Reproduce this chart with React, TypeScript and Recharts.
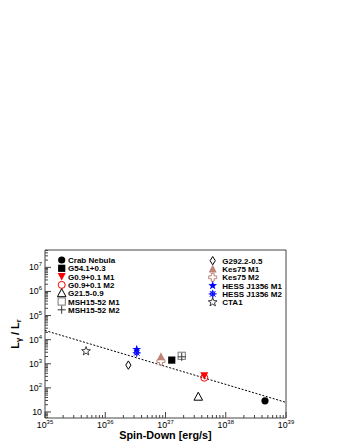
import React from 'react';
import { ScatterChart, Scatter, XAxis, YAxis, ReferenceArea, Customized } from 'recharts';

// ---- data ----
const crabNebula = [{ x: 4.48e38, y: 29 }];
const g54 = [{ x: 1.27e37, y: 1420 }];
const g09M1 = [{ x: 4.4e37, y: 316 }];
const g09M2 = [{ x: 4.4e37, y: 263 }];
const g215 = [{ x: 3.5e37, y: 43 }];
const msh1552M1 = [{ x: 1.86e37, y: 2140 }];
const msh1552M2 = [{ x: 1.86e37, y: 1940 }];
const g292 = [{ x: 2.42e36, y: 880 }];
const kes75M1 = [{ x: 8.4e36, y: 1940 }];
const kes75M2 = [{ x: 8.4e36, y: 1290 }];
const hessM1 = [{ x: 3.33e36, y: 3930 }];
const hessM2 = [{ x: 3.33e36, y: 2840 }];
const cta1 = [{ x: 4.8e35, y: 3330 }];
const fitLine = [{ x: 1e35, y: 2.4e4 }, { x: 1e39, y: 25 }];

const xMajorTicks = [1e35, 1e36, 1e37, 1e38, 1e39];
const yMajorTicks = [1e1, 1e2, 1e3, 1e4, 1e5, 1e6, 1e7];
const minorMultipliers = [2, 3, 4, 5, 6, 7, 8, 9];
const xDomain = [1e35, 1e39];
const yDomain = [5.62, 5.25e7];

const FONT = '"Liberation Sans", Arial, Helvetica, sans-serif';
const ROSE = '#bd8477';
const AXIS = '#444';

type Kind =
  | 'fcircle' | 'fsquare' | 'ftriDown' | 'ocircle' | 'otriUp' | 'osquare' | 'plus'
  | 'odiamond' | 'ftriUp' | 'ocross' | 'fstar' | 'asterisk' | 'ostar';

const series: { name: string; data: { x: number; y: number }[]; kind: Kind; color: string; col: number }[] = [
  { name: 'Crab Nebula', data: crabNebula, kind: 'fcircle', color: '#000', col: 0 },
  { name: 'G54.1+0.3', data: g54, kind: 'fsquare', color: '#000', col: 0 },
  { name: 'G0.9+0.1 M1', data: g09M1, kind: 'ftriDown', color: '#ff0000', col: 0 },
  { name: 'G0.9+0.1 M2', data: g09M2, kind: 'ocircle', color: '#ff0000', col: 0 },
  { name: 'G21.5-0.9', data: g215, kind: 'otriUp', color: '#000', col: 0 },
  { name: 'MSH15-52 M1', data: msh1552M1, kind: 'osquare', color: '#777', col: 0 },
  { name: 'MSH15-52 M2', data: msh1552M2, kind: 'plus', color: '#333', col: 0 },
  { name: 'G292.2-0.5', data: g292, kind: 'odiamond', color: '#000', col: 1 },
  { name: 'Kes75 M1', data: kes75M1, kind: 'ftriUp', color: ROSE, col: 1 },
  { name: 'Kes75 M2', data: kes75M2, kind: 'ocross', color: ROSE, col: 1 },
  { name: 'HESS J1356 M1', data: hessM1, kind: 'fstar', color: '#0000ff', col: 1 },
  { name: 'HESS J1356 M2', data: hessM2, kind: 'asterisk', color: '#0000ff', col: 1 },
  { name: 'CTA1', data: cta1, kind: 'ostar', color: '#222', col: 1 },
];

function starPoints(cx: number, cy: number, ro: number, ri: number) {
  const pts: string[] = [];
  for (let i = 0; i < 10; i++) {
    const r = i % 2 === 0 ? ro : ri;
    const a = -Math.PI / 2 + (i * Math.PI) / 5;
    pts.push(`${cx + r * Math.cos(a)},${cy + r * Math.sin(a)}`);
  }
  return pts.join(' ');
}

function Marker({ kind, cx, cy, color, s = 1 }: { kind: Kind; cx: number; cy: number; color: string; s?: number }) {
  switch (kind) {
    case 'fcircle':
      return <circle cx={cx} cy={cy} r={3.6 * s} fill={color} />;
    case 'fsquare':
      return <rect x={cx - 3.6 * s} y={cy - 3.6 * s} width={7.2 * s} height={7.2 * s} fill={color} />;
    case 'ftriDown':
      return <polygon points={`${cx - 4 * s},${cy - 3.5 * s} ${cx + 4 * s},${cy - 3.5 * s} ${cx},${cy + 4 * s}`} fill={color} />;
    case 'ocircle':
      return <circle cx={cx} cy={cy} r={3.5 * s} fill="none" stroke={color} strokeWidth={1} />;
    case 'otriUp':
      return <polygon points={`${cx},${cy - 4.5 * s} ${cx - 4.3 * s},${cy + 3.5 * s} ${cx + 4.3 * s},${cy + 3.5 * s}`} fill="none" stroke={color} strokeWidth={1} />;
    case 'osquare':
      return <rect x={cx - 3.6 * s} y={cy - 3.6 * s} width={7.2 * s} height={7.2 * s} fill="none" stroke={color} strokeWidth={1} />;
    case 'plus':
      return (
        <g stroke={color} strokeWidth={1}>
          <line x1={cx - 4 * s} x2={cx + 4 * s} y1={cy} y2={cy} />
          <line x1={cx} x2={cx} y1={cy - 4 * s} y2={cy + 4 * s} />
        </g>
      );
    case 'odiamond':
      return <polygon points={`${cx},${cy - 4.2 * s} ${cx + 2.6 * s},${cy} ${cx},${cy + 4.2 * s} ${cx - 2.6 * s},${cy}`} fill="none" stroke={color} strokeWidth={1} />;
    case 'ftriUp':
      return <polygon points={`${cx},${cy - 4.5 * s} ${cx - 4 * s},${cy + 3.5 * s} ${cx + 4 * s},${cy + 3.5 * s}`} fill={color} />;
    case 'ocross': {
      const a = 4 * s, b = 1.4 * s;
      const p = [
        [-b, -a], [b, -a], [b, -b], [a, -b], [a, b], [b, b], [b, a], [-b, a], [-b, b], [-a, b], [-a, -b], [-b, -b],
      ].map(([dx, dy]) => `${cx + dx},${cy + dy}`).join(' ');
      return <polygon points={p} fill="none" stroke={color} strokeWidth={1} />;
    }
    case 'fstar':
      return <polygon points={starPoints(cx, cy, 4.6 * s, 1.9 * s)} fill={color} />;
    case 'asterisk': {
      const r = 4 * s, d = r * 0.7071;
      return (
        <g stroke={color} strokeWidth={1}>
          <line x1={cx - r} x2={cx + r} y1={cy} y2={cy} />
          <line x1={cx} x2={cx} y1={cy - r} y2={cy + r} />
          <line x1={cx - d} x2={cx + d} y1={cy - d} y2={cy + d} />
          <line x1={cx - d} x2={cx + d} y1={cy + d} y2={cy - d} />
          <circle cx={cx} cy={cy} r={2.2 * s} fill="none" />
        </g>
      );
    }
    case 'ostar':
      return <polygon points={starPoints(cx, cy, 4.6 * s, 1.9 * s)} fill="none" stroke={color} strokeWidth={0.9} />;
  }
  return null;
}

function isMajor(v: number) {
  const l = Math.log10(v);
  return Math.abs(l - Math.round(l)) < 1e-6;
}

function buildTicks(majors: number[], lo: number, hi: number) {
  const out: number[] = [];
  const startExp = Math.floor(Math.log10(lo));
  const endExp = Math.floor(Math.log10(hi));
  for (let e = startExp; e <= endExp; e++) {
    const base = Math.pow(10, e);
    if (majors.some((m) => Math.abs(m - base) / base < 1e-9) && base >= lo && base <= hi) out.push(base);
    for (const m of minorMultipliers) {
      const v = m * base;
      if (v >= lo && v <= hi) out.push(v);
    }
  }
  return out;
}

const xTicks = buildTicks(xMajorTicks, xDomain[0], xDomain[1]);
const yTicks = buildTicks(yMajorTicks, yDomain[0], yDomain[1]);

const XTick = (props: any) => {
  const { x, y, payload } = props;
  const v = payload.value;
  const major = isMajor(v);
  const e = Math.round(Math.log10(v));
  return (
    <g>
      <line x1={x} x2={x} y1={y} y2={y - (major ? 6 : 3)} stroke={AXIS} strokeWidth={1} />
      {major && (
        <text x={x} y={y + 9.5} textAnchor="middle" fontSize={8.8} fontFamily={FONT} fill="#000">
          <tspan>10</tspan>
          <tspan dy={-4} fontSize={5.9}>{e}</tspan>
        </text>
      )}
    </g>
  );
};

const YTick = (props: any) => {
  const { x, y, payload } = props;
  const v = payload.value;
  const major = isMajor(v);
  const e = Math.round(Math.log10(v));
  return (
    <g>
      <line x1={x} x2={x + (major ? 6 : 3)} y1={y} y2={y} stroke={AXIS} strokeWidth={1} />
      {major && (
        <text x={x - 3} y={y + 3} textAnchor="end" fontSize={8.8} fontFamily={FONT} fill="#000">
          <tspan>10</tspan>
          {e !== 1 && <tspan dy={-4} fontSize={5.9}>{e}</tspan>}
        </text>
      )}
    </g>
  );
};

const LegendBlock = () => {
  const rows0 = series.filter((s) => s.col === 0);
  const rows1 = series.filter((s) => s.col === 1);
  const rowH = 8.3;
  return (
    <g>
      {rows0.map((s, i) => (
        <g key={s.name}>
          <Marker kind={s.kind} cx={61.7} cy={260 + i * rowH} color={s.color} />
          <text x={68} y={260 + i * rowH + 3} fontSize={8} fontWeight="bold" fontFamily={FONT} fill="#000">
            {s.name}
          </text>
        </g>
      ))}
      {rows1.map((s, i) => (
        <g key={s.name}>
          <Marker kind={s.kind} cx={212.7} cy={260.7 + i * rowH} color={s.color} />
          <text x={222.3} y={260.7 + i * rowH + 3} fontSize={8} fontWeight="bold" fontFamily={FONT} fill="#000">
            {s.name}
          </text>
        </g>
      ))}
    </g>
  );
};

const XTitle = (props: any) => {
  const vb = props.viewBox || { x: 45, y: 418, width: 241, height: 26 };
  return (
    <text x={vb.x + vb.width / 2} y={vb.y + 21} textAnchor="middle" fontSize={10.8} fontWeight="bold" fontFamily={FONT} fill="#000">
      Spin-Down [erg/s]
    </text>
  );
};

const YTitle = (props: any) => {
  const vb = props.viewBox || { x: 0, y: 250, width: 45, height: 168 };
  const cx = 18.5;
  const cy = vb.y + vb.height / 2;
  return (
    <text x={cx} y={cy} transform={`rotate(-90, ${cx}, ${cy})`} textAnchor="middle" fontSize={10.8} fontWeight="bold" fontFamily={FONT} fill="#000">
      <tspan>L</tspan>
      <tspan dy={2.5} fontSize={7.5}>γ</tspan>
      <tspan dy={-2.5}> / L</tspan>
      <tspan dy={2.5} fontSize={7.5}>r</tspan>
    </text>
  );
};

export default function App() {
  return (
    <div style={{ position: 'absolute', left: 0, top: 0, width: 343, height: 444, background: '#fff' }}>
      <ScatterChart width={343} height={444} margin={{ top: 250, right: 57, bottom: 0, left: 0 }}>
        <XAxis
          type="number"
          dataKey="x"
          scale="log"
          domain={xDomain}
          allowDataOverflow
          ticks={xTicks}
          interval={0}
          tick={<XTick />}
          tickLine={false}
          tickSize={0}
          tickMargin={0}
          axisLine={false}
          height={26}
          label={<XTitle />}
        />
        <YAxis
          type="number"
          dataKey="y"
          scale="log"
          domain={yDomain}
          allowDataOverflow
          ticks={yTicks}
          interval={0}
          tick={<YTick />}
          tickLine={false}
          tickSize={0}
          tickMargin={0}
          axisLine={false}
          width={45}
          label={<YTitle />}
        />
        <ReferenceArea x1={xDomain[0]} x2={xDomain[1]} y1={yDomain[0]} y2={yDomain[1]} fill="none" fillOpacity={0} stroke={AXIS} strokeWidth={1} ifOverflow="visible" />
        <Scatter
          data={fitLine}
          isAnimationActive={false}
          line={{ stroke: '#000', strokeWidth: 1, strokeDasharray: '2 1.6' }}
          shape={() => <g />}
        />
        {series.map((s) => (
          <Scatter
            key={s.name}
            name={s.name}
            data={s.data}
            isAnimationActive={false}
            shape={(p: any) => <Marker kind={s.kind} cx={p.cx} cy={p.cy} color={s.color} />}
          />
        ))}
        <Customized component={LegendBlock} />
      </ScatterChart>
    </div>
  );
}
